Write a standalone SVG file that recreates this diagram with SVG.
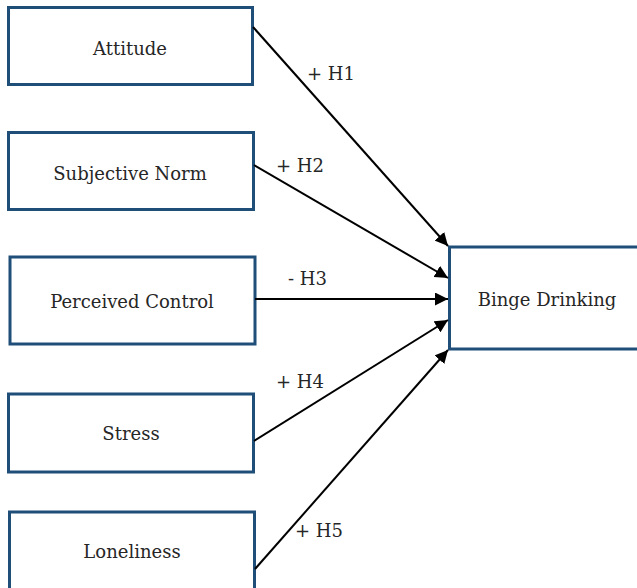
<svg xmlns="http://www.w3.org/2000/svg" width="637" height="588" viewBox="0 0 637 588">
<style>
.box{fill:#fff;stroke:#1f4e79;stroke-width:3}
text{font-family:'DejaVu Serif','Liberation Serif','Times New Roman',serif;font-size:18px;fill:#262626}
.t{text-anchor:middle}
.c{stroke:#000;stroke-width:2;fill:none;marker-end:url(#ah)}
</style>
<defs>
<marker id="ah" viewBox="0 0 10 10" refX="10" refY="5" markerWidth="6.5" markerHeight="6.5" markerUnits="strokeWidth" orient="auto">
<path d="M0,0 L10,5 L0,10 z" fill="#000"/>
</marker>
</defs>
<rect width="637" height="588" fill="#fff"/>
<g id="attitude"><rect class="box" x="8.5" y="7.5" width="244" height="77"/><text class="t" x="130" y="55">Attitude</text></g>
<g id="subjective-norm"><rect class="box" x="8.5" y="132.5" width="245" height="77"/><text class="t" x="130" y="180">Subjective Norm</text></g>
<g id="perceived-control"><rect class="box" x="10" y="257" width="245" height="87"/><text class="t" x="132" y="308">Perceived Control</text></g>
<g id="stress"><rect class="box" x="8.5" y="394" width="245" height="78"/><text class="t" x="131" y="440">Stress</text></g>
<g id="loneliness"><rect class="box" x="9.5" y="512" width="245" height="90"/><text class="t" x="132" y="558">Loneliness</text></g>
<g id="binge-drinking"><rect class="box" x="449.5" y="247" width="200" height="102"/><text class="t" x="547" y="306">Binge Drinking</text></g>
<g id="connectors">
<line class="c" x1="253" y1="27" x2="448" y2="246"/>
<line class="c" x1="254" y1="165" x2="448" y2="278"/>
<line class="c" x1="255" y1="299" x2="448" y2="299"/>
<line class="c" x1="254" y1="441" x2="448" y2="320"/>
<line class="c" x1="255" y1="569" x2="448" y2="350"/>
<text x="307" y="80">+ H1</text>
<text x="276" y="172">+ H2</text>
<text x="288" y="285">- H3</text>
<text x="276" y="388">+ H4</text>
<text x="295" y="537">+ H5</text>
</g>
</svg>
